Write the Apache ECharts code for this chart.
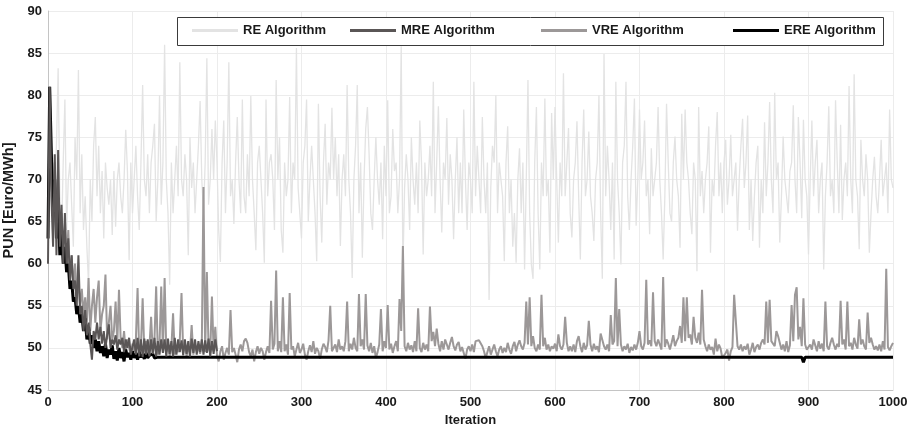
<!DOCTYPE html>
<html><head><meta charset="utf-8">
<script src="https://cdn.jsdelivr.net/npm/echarts@6/dist/echarts.min.js"></script>
<style>html,body{margin:0;padding:0;background:#fff}#c{width:910px;height:426px}</style>
</head><body><div id="c"></div>
<script>
const seriesNames = ['RE Algorithm', 'MRE Algorithm', 'VRE Algorithm', 'ERE Algorithm'];
const xRange = [0, 1000];
const yRange = [45, 90];

// RE: one value every 2 iterations (x = index * 2)
const reStep = 2;
const reValues = [
  65, 72, 77, 66, 70, 74, 83.2, 68, 63, 72,
  79.5, 64, 70, 72, 67, 62, 75, 70, 83, 66,
  73, 64, 68, 62, 57.5, 70, 65, 74, 77.4, 68,
  74, 66, 71, 63, 72, 69, 67, 70, 63.4, 71,
  64.4, 70, 72, 68, 66, 70, 75.9, 71, 60.4, 72,
  66, 70, 74, 68, 64, 72, 81.2, 70, 68, 73,
  66, 72, 74, 76.6, 65, 70, 80, 67, 72, 86,
  70, 66, 57.5, 72, 66, 70, 74, 68, 83.9, 70,
  68, 73, 70, 61, 75, 69, 72, 66, 70, 74,
  79.3, 70, 66, 72, 84.4, 67, 70, 76, 70, 77,
  72, 64, 60.2, 72, 77, 66, 72, 83.9, 68, 70,
  64.7, 72, 77.4, 70, 66, 79.5, 68, 66, 73, 68,
  79.9, 70, 66, 61.6, 72, 74, 70, 66, 60.1, 79.5,
  68, 72, 73, 70, 64, 81.8, 70, 75, 64, 61.3,
  72, 68, 70, 79.8, 66, 72, 70, 85.6, 69, 66,
  63, 72, 74, 79.5, 65, 70, 74, 70, 66, 60.3,
  79, 68, 62.5, 72, 76.6, 67, 72, 70, 78.5, 70,
  75, 68, 73, 62.1, 70, 73, 68, 81.2, 70, 66,
  58.3, 70, 74, 81.2, 66, 72, 60.7, 70, 76, 78.6,
  73, 66, 64, 70, 75, 70, 67, 72, 62.9, 74,
  68, 79.4, 66, 68, 76, 71, 72, 66, 70, 85.8,
  59.3, 69, 73, 70, 64, 75, 70, 67, 72, 66,
  77, 72, 61.1, 72, 68, 70, 74, 68, 81.6, 66,
  72, 78.7, 70, 63.7, 72, 70, 77.3, 67, 73, 70,
  62.9, 70, 75, 66, 72, 66, 78.3, 70, 64, 72,
  70, 66, 81.6, 68, 74, 70, 66, 77.4, 70, 66,
  72, 55.7, 69, 74, 72, 80, 66, 72, 70, 68,
  60.3, 72, 76.3, 66, 70, 62, 66, 60.1, 70, 73.7,
  66, 72, 59.3, 70, 81.8, 66, 59.9, 58.2, 72, 78.6,
  66, 59.3, 72, 68, 79.6, 68, 70, 61.3, 77.9, 70,
  78.6, 70, 62.5, 72, 68, 82.6, 68, 72, 76.1, 66,
  63.1, 70, 72, 76.9, 68, 60.5, 72, 78.3, 68, 70,
  75.7, 68, 66, 62.7, 70, 72, 80, 66, 58.2, 84.9,
  68, 74, 70, 64, 72, 60.5, 81.6, 70, 66, 59.9,
  72, 74, 81.6, 68, 64, 70, 74, 79.6, 64.5, 70,
  78.3, 70, 72, 77, 68, 70, 63.5, 73.7, 68, 70,
  72, 78.6, 70, 66, 60.5, 68, 79, 72, 66, 65,
  72, 75.1, 70, 68, 61.9, 77.8, 70, 78.3, 72, 70,
  66, 63.5, 72, 70, 59.1, 78.6, 68, 71, 66, 70,
  72, 76.3, 61.3, 70, 68, 74, 78, 68, 72, 66,
  72, 74.7, 67, 70, 75.3, 68, 70, 72, 63.9, 70,
  74, 77.2, 69, 72, 77.6, 64, 70, 62.7, 68, 72,
  74, 61.9, 70, 66, 76.8, 68, 72, 79.2, 70, 66,
  80.3, 70, 72, 62.5, 68, 75.1, 70, 68, 66, 71,
  72, 78.8, 70, 66, 77.4, 72, 65.4, 77.1, 70, 68,
  61.1, 70, 77, 68, 72, 74.7, 66, 70, 72, 59.3,
  68, 72, 78.7, 68, 70, 66, 79.4, 72, 66, 76.5,
  65.2, 70, 72, 68, 81.1, 70, 66, 82.5, 70, 68,
  61.7, 74.7, 70, 68, 73, 70, 61.3, 66, 70, 72.7,
  68, 66, 70, 74.7, 68, 70, 72, 66, 78.3, 70,
  69
];

// VRE: one value every 2 iterations (x = index * 2)
const vreStep = 2;
const vreValues = [
  64, 78, 70, 66, 72, 63, 68, 62, 66, 60,
  62, 60, 64, 58, 61, 57, 60, 56, 58, 55,
  57, 54, 56, 53, 58.3, 52, 55, 57, 53, 56,
  58, 52, 54, 55, 58.7, 51, 53, 55, 51, 52,
  55.5, 50.5, 56.9, 51, 50, 52, 49.5, 51, 50, 49.2,
  50.5, 49.5, 51, 57.1, 49, 50.2, 55.9, 49.5, 50.8, 49,
  50, 53.7, 49.5, 51, 57.3, 49.2, 50.5, 57.3, 49.5, 58.3,
  49.5, 50.5, 49, 50, 54.1, 49.2, 50, 49.5, 51, 56.5,
  49.4, 50.5, 49, 50, 49.5, 52.7, 49.2, 50.4, 49.6, 50,
  49.3, 50.2, 69.1, 49.5, 59, 50, 49.4, 56.1, 49.6, 52.5,
  49, 48.4, 49.6, 50.2, 48.6, 49.4, 50, 49.2, 54.5, 49.5,
  50, 49.2, 48.3, 49.8, 50.4, 49.6, 50.8, 51.1, 50.6, 49.5,
  49, 49.8, 48.4, 49.5, 50.2, 49.3, 50, 49.6, 48.6, 49.5,
  50.2, 49.4, 55.6, 49.8, 50.5, 59.2, 49.6, 50.8, 49.5, 56,
  49.6, 50.4, 49.2, 56.5, 49.8, 50.2, 49, 49.8, 50.6, 49.4,
  49.8, 50.5, 49.2, 48.6, 49.6, 50.3, 49.5, 50.8, 49.3, 50,
  49.6, 48.7, 49.8, 50.5, 50.1, 49.5, 50.9, 55, 49.6, 49.8,
  50.4, 49.5, 51, 49.8, 50.2, 49.6, 50.8, 55.5, 49.6, 50.5,
  49.8, 51.2, 50, 49.6, 56.4, 50.2, 51, 49.8, 56.4, 50.3,
  49.6, 50.6, 49.4, 50.2, 48.8, 49.5, 50.4, 54.6, 49.6, 50.8,
  50, 55.1, 49.8, 50.5, 49.4, 50.2, 50.8, 49.6, 55.8, 52,
  62.1, 50.2, 49.6, 50.6, 49.8, 50.3, 49.5, 50.8, 49.6, 54.7,
  50, 49.5, 50.6, 49.8, 50.4, 49.6, 54.9, 50.8, 51.9, 50.2,
  52.3, 50.5, 49.6, 50.8, 49.8, 51, 50.4, 49.8, 50.6, 51.3,
  50.2, 49.7, 50.4, 50.7, 49.6, 50.1, 49.4, 48.7, 49.8, 50.2,
  49.6, 50.4, 49.5, 50.8, 51, 50.9, 51, 50.2, 49.6, 48.8,
  49.5, 50.2, 49.2, 49.8, 50.4, 49.6, 49, 49.8, 50.2, 49.4,
  50, 49.5, 50.6, 49.8, 49.3, 50.2, 50.7, 49.6, 50.4, 50.9,
  50.2, 49.8, 50.6, 55.5, 50.4, 56, 50.2, 51.4, 50, 49.6,
  50.4, 49.8, 56.3, 50.2, 51.2, 49.8, 50.4, 49.6, 50.2, 49.9,
  50.5, 49.6, 51.6, 50.2, 49.8, 50.4, 53.7, 50.6, 49.6, 50.2,
  49.6, 50.4, 49.5, 50.8, 51.4, 50.2, 49.5, 50.6, 49.8, 50.3,
  53.2, 50.4, 49.6, 50.5, 49.8, 50.2, 49.5, 51.7, 51.5, 50.2,
  49.8, 50.4, 49.6, 53.9, 50.4, 50.8, 58.3, 50.2, 54.6, 50.4,
  49.6, 50.2, 49.8, 50.5, 49.4, 50.1, 49.7, 50.4, 49.8, 50.6,
  52, 50.2, 49.8, 50.6, 58.1, 50.4, 50.9, 50.2, 56.6, 50.8,
  50.2, 51, 50.4, 49.8, 58.4, 50.1, 51, 50.5, 49.8, 50.6,
  51.5, 50.2, 50.8, 51.2, 52.6, 50.6, 56, 50.8, 56, 51.2,
  51.6, 50.4, 53.7, 51.2, 50.6, 51.8, 50.4, 56.9, 51, 50.2,
  49.6, 50.4, 49.8, 50.1, 49.2, 51.1, 49.6, 50.4, 49.9, 48.8,
  48.6, 49.4, 49.8, 48.5, 49.6, 50.1, 56.3, 53.2, 50.2, 49.8,
  50.4, 49.6, 50.2, 49.8, 50.5, 49.2, 49.8, 50.6, 49.5, 50.1,
  50.4, 49.8, 50.6, 51, 50.4, 55.5, 50.6, 55.7, 50.8, 51,
  50.2, 52, 51.4, 50.6, 49.8, 50.4, 49.6, 50.8, 49.5, 50.3,
  55.1, 50.8, 56.3, 57.2, 51, 52.5, 50.2, 55.9, 50.4, 49.8,
  49.6, 50.4, 49.8, 51, 50.3, 49.6, 50.8, 49.9, 50.5, 49.6,
  55.5, 50.2, 49.8, 50.6, 51.2, 50.4, 49.8, 50.5, 50.1, 55.6,
  50.4, 51, 49.8, 55.5, 50.2, 50.6, 49.8, 51.2, 50.4, 49.9,
  53.4, 50.4, 51, 50.2, 49.8, 54.2, 50.6, 51.2, 50.4, 49.8,
  50.2, 49.7, 50.4, 49.6, 50.8, 49.8, 59.4, 50.1, 49.7, 50.2,
  50.6
];

// MRE: one value every 2 iterations, iterations 0..200
const mreStep = 2;
const mreValues = [
  60, 81, 68, 62, 73, 61, 73.5, 62, 67, 60,
  66, 60, 63, 58, 61, 57, 58, 55, 61, 54,
  55, 52, 54.5, 51.5, 53, 50.5, 48.6, 52, 51, 53,
  51, 52.5, 50.5, 52, 50, 51.5, 52.8, 50, 51, 50.4,
  51.5, 49.8, 51, 50.4, 51.2, 49.5, 51, 50, 51.2, 49.2,
  49, 51, 49.2, 51.2, 49, 51, 48.9, 51.1, 49.2, 51,
  49, 51, 49.3, 51.2, 49, 50.8, 49.2, 51, 49.4, 51,
  49, 51.1, 49.3, 50.8, 49, 51.2, 49.2, 51, 49.5, 50.9,
  49.1, 51, 49.3, 50.8, 49, 51.1, 49.4, 51, 49.2, 50.8,
  49.5, 51, 49.2, 50.9, 49.4, 51.1, 49, 50.8, 49.3, 51,
  49.6
];

// ERE: one value every 2 iterations for 0..138, then the settled tail
const ereStep = 2;
const ereValues = [
  63, 81, 73, 66, 70, 63, 67, 61, 64, 60,
  62, 59, 60, 57, 58, 55.5, 56, 54, 55, 53,
  54, 52, 53.5, 51, 52.5, 50.5, 51.5, 50, 51, 49.6,
  50.8, 49.4, 50.2, 49, 50.5, 48.8, 49.8, 49.2, 50.3, 48.7,
  49.6, 48.5, 50, 48.8, 49.5, 48.4, 49.8, 48.9, 49.4, 48.6,
  49.6, 48.8, 49.3, 48.6, 49.5, 48.9, 49.2, 48.7, 49.4, 48.8,
  49.1, 48.9, 49.3, 48.8, 49, 48.9, 49.1, 48.9, 48.9, 48.9
];
const ereTailIter = [140, 892, 894, 896, 1000];
const ereTailValues = [48.9, 48.9, 48.3, 48.9, 48.9];

const toPairs = (vals, step) => vals.map((v, i) => [i * step, v]);
const reData = toPairs(reValues, reStep);
const vreData = toPairs(vreValues, vreStep);
const mreData = toPairs(mreValues, mreStep);
const ereData = toPairs(ereValues, ereStep).concat(ereTailIter.map((x, i) => [x, ereTailValues[i]]));

const colors = { re: '#e3e3e3', mre: '#5a5656', vre: '#9c9898', ere: '#000000' };
const FONT = "'Liberation Sans', Arial, sans-serif";
const txt = { fontFamily: FONT, fontSize: 13, fontWeight: 'bold', color: '#1a1a1a' };
const legendLefts = [192, 350, 541, 733];

const chart = echarts.init(document.getElementById('c'), null, { renderer: 'canvas' });
const option = {
  animation: false,
  backgroundColor: '#ffffff',
  grid: { left: 48, right: 17, top: 11, bottom: 36, containLabel: false, outerBoundsMode: 'none' },
  xAxis: {
    type: 'value', min: xRange[0], max: xRange[1], interval: 100,
    name: 'Iteration', nameLocation: 'middle', nameGap: 20,
    nameTextStyle: txt,
    axisLine: { lineStyle: { color: '#c4c4c4', width: 1 } },
    axisTick: { show: false },
    axisLabel: Object.assign({ margin: 6, formatter: v => String(v) }, txt),
    splitLine: { show: true, lineStyle: { color: '#ececec', width: 1 } }
  },
  yAxis: {
    type: 'value', min: yRange[0], max: yRange[1], interval: 5,
    name: 'PUN [Euro/MWh]', nameLocation: 'middle', nameGap: 32, nameRotate: 90,
    nameTextStyle: Object.assign({}, txt, { fontSize: 14.5 }),
    axisLine: { show: true, lineStyle: { color: '#c4c4c4', width: 1 } },
    axisTick: { show: false },
    axisLabel: Object.assign({ margin: 6 }, txt),
    splitLine: { show: true, lineStyle: { color: '#ececec', width: 1 } }
  },
  graphic: [{
    type: 'rect', z: 10,
    shape: { x: 177.5, y: 17.5, width: 706, height: 28 },
    style: { fill: '#ffffff', stroke: '#3a3a3a', lineWidth: 1 }
  }],
  legend: seriesNames.map((n, i) => ({
    data: [n], left: legendLefts[i], top: 24, z: 11,
    icon: 'rect', itemWidth: 46, itemHeight: 3, itemGap: 0,
    selectedMode: false, padding: 0,
    textStyle: txt
  })),
  series: [
    { name: seriesNames[0], type: 'line', data: reData, color: colors.re, showSymbol: false, symbol: 'none',
      lineStyle: { width: 1.3, color: colors.re }, z: 2 },
    { name: seriesNames[2], type: 'line', data: vreData, color: colors.vre, showSymbol: false, symbol: 'none',
      lineStyle: { width: 2, color: colors.vre }, z: 3 },
    { name: seriesNames[3], type: 'line', data: ereData, color: colors.ere, showSymbol: false, symbol: 'none',
      lineStyle: { width: 3, color: colors.ere }, z: 4 },
    { name: seriesNames[1], type: 'line', data: mreData, color: colors.mre, showSymbol: false, symbol: 'none',
      lineStyle: { width: 2, color: colors.mre }, z: 5 }
  ]
};
chart.setOption(option);
</script>
</body></html>
